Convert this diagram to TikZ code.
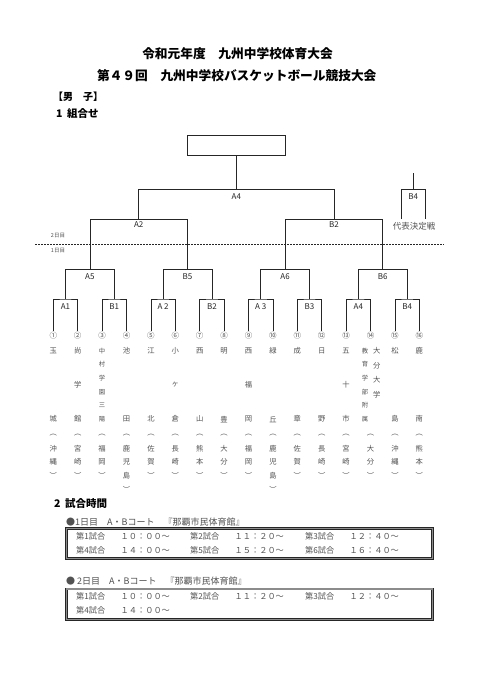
\documentclass[tikz,border=0pt]{standalone}
\usepackage{fontspec}
\setmainfont{Noto Sans CJK JP}
\usetikzlibrary{calc}
\definecolor{ink}{gray}{0.15}
\definecolor{txt}{gray}{0.32}
\tikzset{
  br/.style={draw=ink, line width=0.75pt},
  lab/.style={inner sep=0pt, font=\fontsize{8}{9}\selectfont, text=ink},
  num/.style={inner sep=0pt, font=\fontsize{7.5}{8}\selectfont, text=txt},
  tm/.style={inner sep=0pt, font=\fontsize{7.3}{8}\selectfont, text=txt},
  tms/.style={inner sep=0pt, font=\fontsize{6.3}{7}\selectfont, text=txt},
  head/.style={inner sep=0pt, font=\fontsize{12.7}{14}\selectfont\bfseries, text=black},
  sec/.style={inner sep=0pt, anchor=west, font=\fontsize{10.5}{12}\selectfont\bfseries, text=black},
  day/.style={inner sep=0pt, anchor=west, font=\fontsize{9}{10}\selectfont, text=txt},
  sched/.style={inner sep=0pt, anchor=west, font=\fontsize{8.2}{9}\selectfont, text=txt},
  schedbox/.style={draw=ink, line width=0.6pt, double=black!45, double distance=1.4pt,
    minimum width=366pt, minimum height=30pt, inner sep=0pt},
}
\newcommand\teamname[5]{%
  \foreach \c [count=\k] in {#4} {
    \pgfmathsetmacro\yy{350.7+13.7*(\k-1)*5/(#3-1)}
    \node[#5] (nm#1-\k) at (#2,\yy) {\c};
  }}
\newcommand\teampref[3]{%
  \foreach \c [count=\k] in {#3} {
    \pgfmathsetmacro\yy{435+13.5*(\k-1)}
    \node[tm] (pf#1-\k) at (#2,\yy) {\c};
  }}
\begin{document}
\begin{tikzpicture}[x=1pt,y=-1pt]
\useasboundingbox (0,0) rectangle (481,680);
\fill[white] (0,0) rectangle (481,680);

% titles
\node[head] (title1) at (237.5,54) {令和元年度　九州中学校体育大会};
\node[head] (title2) at (236.7,75.7) {第４９回　九州中学校バスケットボール競技大会};
\node[sec, font=\fontsize{10}{12}\selectfont\bfseries] (sex) at (53,96.7) {【男　子】};
\node[sec] (sec1) at (56,113.3) {1\hspace{4.5pt}組合せ};

% champion box
\node[draw=ink, line width=0.75pt, minimum width=98pt, minimum height=19.6pt, inner sep=0pt] (champ) at (236.3,145.5) {};

% day separator
\coordinate (dl) at (35,244);
\coordinate (dr) at (444,244);
\draw[ink, line width=0.5pt, dash pattern=on 2pt off 1pt] (dl) -- (dr);
\node[inner sep=0pt, font=\fontsize{5.5}{6}\selectfont, text=txt] (day2) at (58,236) {2日目};
\node[inner sep=0pt, font=\fontsize{5.5}{6}\selectfont, text=txt] (day1) at (58,251) {1日目};

% teams: legs end points and numbers
\foreach \i/\s in {1/①,2/②,3/③,4/④,5/⑤,6/⑥,7/⑦,8/⑧,9/⑨,10/⑩,11/⑪,12/⑫,13/⑬,14/⑭,15/⑮,16/⑯} {
  \pgfmathsetmacro\xx{53.3+24.4*(\i-1)}
  \coordinate (t\i) at (\xx,331);
  \node[num] (c\i) at (\xx,335.6) {\s};
}

% level 1
\foreach \k/\lb in {1/A1,2/B1,3/A 2,4/B2,5/A 3,6/B3,7/A4,8/B4} {
  \pgfmathtruncatemacro\a{2*\k-1}
  \pgfmathtruncatemacro\b{2*\k}
  \pgfmathsetmacro\xx{53.3+24.4*(2*\k-2)+12.2}
  \coordinate (m1-\k) at (\xx,299);
  \draw[br] (t\a) |- (m1-\k) -| (t\b);
  \node[lab] (l1-\k) at (\xx,306.5) {\lb};
}
% level 2
\foreach \k/\lb in {1/A5,2/B5,3/A6,4/B6} {
  \pgfmathtruncatemacro\a{2*\k-1}
  \pgfmathtruncatemacro\b{2*\k}
  \pgfmathsetmacro\xx{53.3+24.4*(4*\k-4)+36.6}
  \coordinate (m2-\k) at (\xx,269.3);
  \draw[br] (m1-\a) |- (m2-\k) -| (m1-\b);
  \node[lab] (l2-\k) at (\xx,276.5) {\lb};
}
% level 3
\foreach \k/\lb in {1/A2,2/B2} {
  \pgfmathtruncatemacro\a{2*\k-1}
  \pgfmathtruncatemacro\b{2*\k}
  \pgfmathsetmacro\xx{53.3+24.4*(8*\k-8)+85.4}
  \coordinate (m3-\k) at (\xx,219.3);
  \draw[br] (m2-\a) |- (m3-\k) -| (m2-\b);
  \node[lab] (l3-\k) at (\xx,224.8) {\lb};
}
% level 4
\coordinate (m4) at (236.3,189.3);
\draw[br] (m3-1) |- (m4) -| (m3-2);
\node[lab] (l4) at (236.3,196.7) {A4};
\draw[br] (m4) -- (champ.south);

% representative decision match
\coordinate (b4top) at (413.3,173.3);
\coordinate (b4mid) at (413.3,189.3);
\coordinate (b4l) at (401.3,219);
\coordinate (b4r) at (425.7,219);
\draw[br] (b4top) -- (b4mid);
\draw[br] (b4l) |- (b4mid) -| (b4r);
\node[lab] (lb4) at (413.3,197) {B4};
\node[inner sep=0pt, font=\fontsize{8.5}{9}\selectfont, text=txt] (rep) at (414,226.7) {代表決定戦};

% team names
\teamname{1}{53.3}{2}{玉,城}{tm}
\teamname{2}{77.7}{3}{尚,学,館}{tm}
\teamname{3}{102.1}{6}{中,村,学,園,三,陽}{tms}
\teamname{4}{126.5}{2}{池,田}{tm}
\teamname{5}{150.9}{2}{江,北}{tm}
\teamname{6}{175.3}{3}{小,ヶ,倉}{tm}
\teamname{7}{199.7}{2}{西,山}{tm}
\teamname{8}{224.1}{2}{明,豊}{tm}
\teamname{9}{248.5}{3}{西,福,岡}{tm}
\teamname{10}{272.9}{2}{緑,丘}{tm}
\teamname{11}{297.3}{2}{成,章}{tm}
\teamname{12}{321.7}{2}{日,野}{tm}
\teamname{13}{346.1}{3}{五,十,市}{tm}
\teamname{14}{365.0}{6}{教,育,学,部,附,属}{tms}
\foreach \c [count=\k] in {大,分,大,学} {
  \pgfmathsetmacro\yy{350.7+14.7*(\k-1)}
  \node[tm] (nm14b-\k) at (376.7,\yy) {\c};
}
\teamname{15}{394.9}{2}{松,島}{tm}
\teamname{16}{419.3}{2}{鹿,南}{tm}

\teampref{1}{53.3}{︵,沖,縄,︶}
\teampref{2}{77.7}{︵,宮,崎,︶}
\teampref{3}{102.1}{︵,福,岡,︶}
\teampref{4}{126.5}{︵,鹿,児,島,︶}
\teampref{5}{150.9}{︵,佐,賀,︶}
\teampref{6}{175.3}{︵,長,崎,︶}
\teampref{7}{199.7}{︵,熊,本,︶}
\teampref{8}{224.1}{︵,大,分,︶}
\teampref{9}{248.5}{︵,福,岡,︶}
\teampref{10}{272.9}{︵,鹿,児,島,︶}
\teampref{11}{297.3}{︵,佐,賀,︶}
\teampref{12}{321.7}{︵,長,崎,︶}
\teampref{13}{346.1}{︵,宮,崎,︶}
\teampref{14}{370.5}{︵,大,分,︶}
\teampref{15}{394.9}{︵,沖,縄,︶}
\teampref{16}{419.3}{︵,熊,本,︶}

% schedule
\node[sec] (sec2) at (54,504) {2\hspace{4.5pt}試合時間};
\node[day] (day1h) at (66,521.7) {●1日目　A・Bコート　『那覇市民体育館』};
\node[schedbox] (box1) at (249.2,543.3) {};
\node[sched] (g1) at (76,536.7) {第1試合};
\node[sched] (h1) at (120.5,536.7) {１０：００～};
\node[sched] (g2) at (190,536.7) {第2試合};
\node[sched] (h2) at (234.5,536.7) {１１：２０～};
\node[sched] (g3) at (305,536.7) {第3試合};
\node[sched] (h3) at (349.5,536.7) {１２：４０～};
\node[sched] (g4) at (76,550.7) {第4試合};
\node[sched] (h4) at (120.5,550.7) {１４：００～};
\node[sched] (g5) at (190,550.7) {第5試合};
\node[sched] (h5) at (234.5,550.7) {１５：２０～};
\node[sched] (g6) at (305,550.7) {第6試合};
\node[sched] (h6) at (349.5,550.7) {１６：４０～};

\node[day] (day2h) at (66,580.7) {● 2日目　A・Bコート　『那覇市民体育館』};
\node[schedbox, minimum height=30.5pt] (box2) at (249.2,604.2) {};
\node[sched] (k1) at (76,596.7) {第1試合};
\node[sched] (j1) at (120.5,596.7) {１０：００～};
\node[sched] (k2) at (190,596.7) {第2試合};
\node[sched] (j2) at (234.5,596.7) {１１：２０～};
\node[sched] (k3) at (305,596.7) {第3試合};
\node[sched] (j3) at (349.5,596.7) {１２：４０～};
\node[sched] (k4) at (76,610) {第4試合};
\node[sched] (j4) at (120.5,610) {１４：００～};
\end{tikzpicture}
\end{document}
